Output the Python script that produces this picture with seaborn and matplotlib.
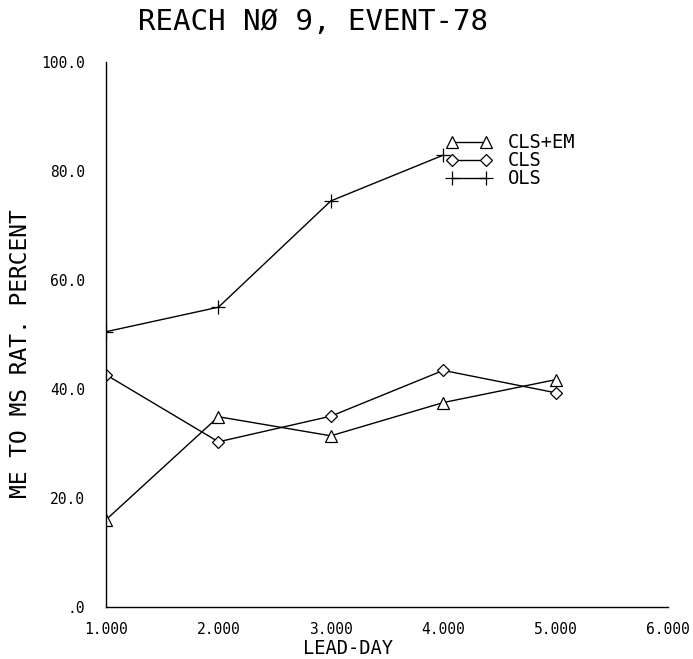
import matplotlib
matplotlib.use("Agg")
import matplotlib.pyplot as plt
import seaborn as sns
import pandas as pd

lead_days = [1, 2, 3, 4, 5]
cls_em = [16.0, 34.9, 31.4, 37.5, 41.7]
cls = [42.6, 30.3, 35.0, 43.4, 39.3]
ols_days = [1, 2, 3, 4]
ols = [50.5, 55.0, 74.5, 82.9]
series_names = ["CLS+EM", "CLS", "OLS"]
x_ticks = [1, 2, 3, 4, 5, 6]
x_tick_labels = ["1.000", "2.000", "3.000", "4.000", "5.000", "6.000"]
y_ticks = [0, 20, 40, 60, 80, 100]
y_tick_labels = [".0", "20.0", "40.0", "60.0", "80.0", "100.0"]

df = pd.concat([
    pd.DataFrame({"day": lead_days, "val": cls_em, "series": series_names[0]}),
    pd.DataFrame({"day": lead_days, "val": cls, "series": series_names[1]}),
    pd.DataFrame({"day": ols_days, "val": ols, "series": series_names[2]}),
])

sns.set_style("white")
plt.rcParams["font.family"] = ["DejaVu Sans Mono"]
plt.rcParams["text.color"] = "black"
plt.rcParams["axes.labelcolor"] = "black"
plt.rcParams["xtick.color"] = "black"
plt.rcParams["ytick.color"] = "black"

fig = plt.figure(figsize=(6.93, 6.59), dpi=100)
ax = fig.add_axes([0.153, 0.079, 0.811, 0.827])

markers = {"CLS+EM": "^", "CLS": "D", "OLS": "+"}
sizes = {"CLS+EM": 8, "CLS": 6.5, "OLS": 10}
handles = []
for name in series_names:
    sub = df[df["series"] == name]
    sns.lineplot(data=sub, x="day", y="val", ax=ax, color="black", linewidth=1.0,
                 marker=markers[name], markersize=sizes[name], markerfacecolor="white",
                 markeredgecolor="black", markeredgewidth=0.9, legend=False)
    handles.append(ax.lines[-1])

leg = ax.legend(handles, series_names, loc="upper left", bbox_to_anchor=(0.575, 0.9),
                frameon=False, numpoints=2, handlelength=2.45, handletextpad=0.85,
                labelspacing=-0.05, fontsize=13.5)

ax.set_xlim(1, 6)
ax.set_ylim(0, 100)
ax.set_xticks(x_ticks)
ax.set_xticklabels(x_tick_labels, fontsize=10.5)
ax.set_yticks(y_ticks)
ax.set_yticklabels(y_tick_labels, fontsize=10.5)
ax.tick_params(axis="y", direction="out", length=10, width=1, pad=5)
ax.tick_params(axis="x", direction="out", length=7, width=1, pad=4)
for s in ["top", "right"]:
    ax.spines[s].set_visible(False)
for s in ["left", "bottom"]:
    ax.spines[s].set_color("black")
    ax.spines[s].set_linewidth(1.0)

ax.set_xlabel("LEAD-DAY", fontsize=13.5)
ax.xaxis.set_label_coords(0.431, -0.058)
ax.set_ylabel("ME TO MS RAT. PERCENT", fontsize=16.5)
ax.yaxis.set_label_coords(-0.132, 0.464)
fig.text(0.451, 0.966, "REACH NØ 9, EVENT-78", fontsize=21, ha="center", va="center")

fig.savefig("out.png", dpi=100, facecolor="white")
